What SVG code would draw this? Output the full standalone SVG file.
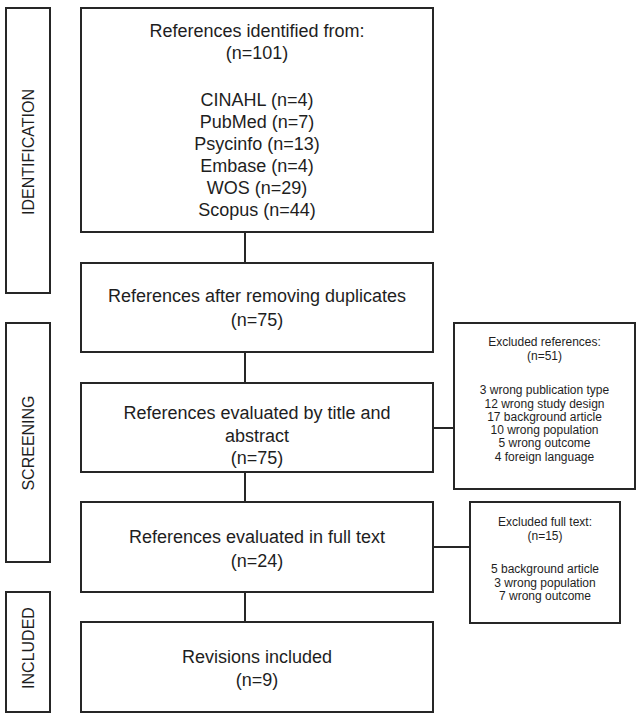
<svg xmlns="http://www.w3.org/2000/svg" width="640" height="716" viewBox="0 0 640 716">
<style>
rect{fill:#fff;stroke:#262626;stroke-width:2}
.c line{stroke:#262626;stroke-width:2}
text{font-family:"Liberation Sans",Arial,sans-serif;fill:#1e1e1e;text-anchor:middle}
.m{font-size:18px}
.s{font-size:12px}
.l{font-size:16px}
</style>
<rect x="0" y="0" width="640" height="716" style="stroke:none"/>
<g class="c">
<line x1="245" y1="232" x2="245" y2="263"/>
<line x1="245" y1="352" x2="245" y2="383"/>
<line x1="245" y1="472" x2="245" y2="502"/>
<line x1="245" y1="592" x2="245" y2="622"/>
<line x1="433" y1="428" x2="454" y2="428"/>
<line x1="433" y1="547" x2="470" y2="547"/>
</g>
<g id="lab-identification"><rect x="6" y="8" width="44" height="285"/><text class="l" transform="translate(33.5,152) rotate(-90)">IDENTIFICATION</text></g>
<g id="lab-screening"><rect x="6" y="323" width="44" height="239"/><text class="l" transform="translate(33.5,443) rotate(-90)">SCREENING</text></g>
<g id="lab-included"><rect x="6" y="592" width="44" height="120"/><text class="l" transform="translate(33.5,648) rotate(-90)">INCLUDED</text></g>
<g id="n1"><rect x="81" y="8" width="352" height="224"/>
<text class="m" x="257"><tspan x="257" y="37">References identified from:</tspan><tspan x="257" y="59">(n=101)</tspan><tspan x="257" y="106">CINAHL (n=4)</tspan><tspan x="257" y="128">PubMed (n=7)</tspan><tspan x="257" y="150">Psycinfo (n=13)</tspan><tspan x="257" y="172">Embase (n=4)</tspan><tspan x="257" y="194">WOS (n=29)</tspan><tspan x="257" y="216">Scopus (n=44)</tspan></text></g>
<g id="n2"><rect x="81" y="263" width="352" height="89"/>
<text class="m"><tspan x="257" y="302">References after removing duplicates</tspan><tspan x="257" y="326">(n=75)</tspan></text></g>
<g id="n3"><rect x="81" y="383" width="352" height="89"/>
<text class="m"><tspan x="257" y="419">References evaluated by title and</tspan><tspan x="257" y="442">abstract</tspan><tspan x="257" y="464">(n=75)</tspan></text></g>
<g id="n4"><rect x="81" y="502" width="352" height="90"/>
<text class="m"><tspan x="257" y="543">References evaluated in full text</tspan><tspan x="257" y="567">(n=24)</tspan></text></g>
<g id="n5"><rect x="81" y="622" width="352" height="90"/>
<text class="m"><tspan x="257" y="663">Revisions included</tspan><tspan x="257" y="686">(n=9)</tspan></text></g>
<g id="x1"><rect x="454" y="323" width="181" height="166"/>
<text class="s"><tspan x="544.5" y="346">Excluded references:</tspan><tspan x="544.5" y="359.5">(n=51)</tspan><tspan x="544.5" y="394">3 wrong publication type</tspan><tspan x="544.5" y="407.5">12 wrong study design</tspan><tspan x="544.5" y="421">17 background article</tspan><tspan x="544.5" y="434">10 wrong population</tspan><tspan x="544.5" y="447">5 wrong outcome</tspan><tspan x="544.5" y="460.5">4 foreign language</tspan></text></g>
<g id="x2"><rect x="470" y="502" width="150" height="121"/>
<text class="s"><tspan x="545" y="526">Excluded full text:</tspan><tspan x="545" y="539.5">(n=15)</tspan><tspan x="545" y="573">5 background article</tspan><tspan x="545" y="586.5">3 wrong population</tspan><tspan x="545" y="600">7 wrong outcome</tspan></text></g>
</svg>
